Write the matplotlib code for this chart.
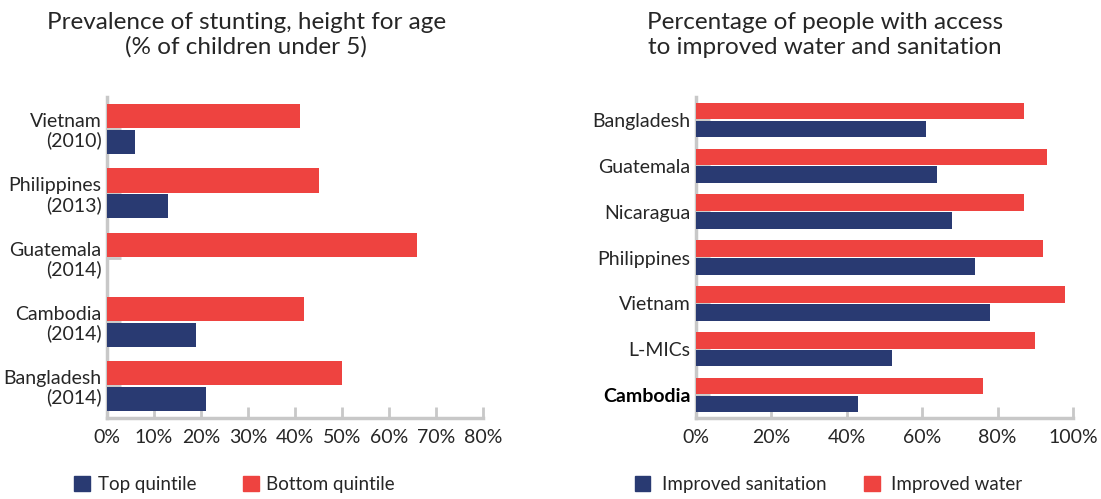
import numpy as np
import matplotlib
matplotlib.use('Agg')
import matplotlib.pyplot as plt
from matplotlib.patches import Patch

# Data
stunt_labels = ['Vietnam\n(2010)', 'Philippines\n(2013)', 'Guatemala\n(2014)',
                'Cambodia\n(2014)', 'Bangladesh\n(2014)']
stunt_bottom = [41, 45, 66, 42, 50]
stunt_top = [6, 13, 0, 19, 21]

water_labels = ['Bangladesh', 'Guatemala', 'Nicaragua', 'Philippines',
                'Vietnam', 'L-MICs', 'Cambodia']
water = [87, 93, 87, 92, 98, 90, 76]
sanitation = [61, 64, 68, 74, 78, 52, 43]

RED = '#EE4340'
NAVY = '#293A72'
GREY = '#C8C8C8'
TXT = '#262626'

plt.rcParams['font.family'] = ['Lato', 'DejaVu Sans']

fig = plt.figure(figsize=(11.01, 4.99), dpi=100)
ax1 = fig.add_axes([0.0972, 0.1623, 0.3415, 0.6433])
ax2 = fig.add_axes([0.632, 0.1623, 0.3426, 0.6433])


def style_axis(ax, xmax, step, n):
    ax.set_xlim(0, xmax)
    ax.set_ylim(n - 0.5, -0.5)
    for s in ['top', 'right']:
        ax.spines[s].set_visible(False)
    for s in ['left', 'bottom']:
        ax.spines[s].set_color(GREY)
        ax.spines[s].set_linewidth(2.5)
    ax.set_xticks(np.arange(0, xmax + 1, step))
    ax.set_xticklabels([str(v) + '%' for v in np.arange(0, xmax + 1, step)],
                       fontsize=14, color=TXT)
    ax.tick_params(axis='x', direction='in', length=8, width=2, color=GREY, pad=8)
    ax.tick_params(axis='y', direction='in', length=10, width=2, color=GREY, pad=4)


# Left chart: stunting
y1 = np.arange(len(stunt_labels))
ax1.barh(y1 - 0.2, stunt_bottom, height=0.375, color=RED, zorder=3)
ax1.barh(y1 + 0.2, stunt_top, height=0.375, color=NAVY, zorder=3)
style_axis(ax1, 80, 10, len(stunt_labels))
ax1.set_yticks(y1)
ax1.set_yticklabels(stunt_labels, fontsize=14, color=TXT, linespacing=1.1)

# Right chart: water and sanitation
y2 = np.arange(len(water_labels))
ax2.barh(y2 - 0.195, water, height=0.36, color=RED, zorder=3)
ax2.barh(y2 + 0.195, sanitation, height=0.36, color=NAVY, zorder=3)
style_axis(ax2, 100, 20, len(water_labels))
ax2.set_yticks(y2)
ax2.set_yticklabels(water_labels, fontsize=14, color=TXT)
lbl = ax2.get_yticklabels()[-1]
lbl.set_fontweight('bold')
lbl.set_color('black')

# Titles
fig.text(0.2235, 0.93, 'Prevalence of stunting, height for age\n(% of children under 5)',
         ha='center', va='center', fontsize=17.5, color=TXT, linespacing=1.2)
fig.text(0.7493, 0.93, 'Percentage of people with access\nto improved water and sanitation',
         ha='center', va='center', fontsize=17.5, color=TXT, linespacing=1.2)

# Legends
fig.legend(handles=[Patch(color=NAVY, label='Top quintile'),
                    Patch(color=RED, label='Bottom quintile')],
           loc='center left', bbox_to_anchor=(0.052, 0.03), ncol=2, frameon=False,
           fontsize=13.5, handlelength=0.85, handleheight=0.85, handletextpad=0.4,
           columnspacing=2.5, labelcolor=TXT)
fig.legend(handles=[Patch(color=NAVY, label='Improved sanitation'),
                    Patch(color=RED, label='Improved water')],
           loc='center left', bbox_to_anchor=(0.561, 0.03), ncol=2, frameon=False,
           fontsize=13.5, handlelength=0.85, handleheight=0.85, handletextpad=0.6,
           columnspacing=2.0, labelcolor=TXT)

fig.savefig('out.png', dpi=100)
